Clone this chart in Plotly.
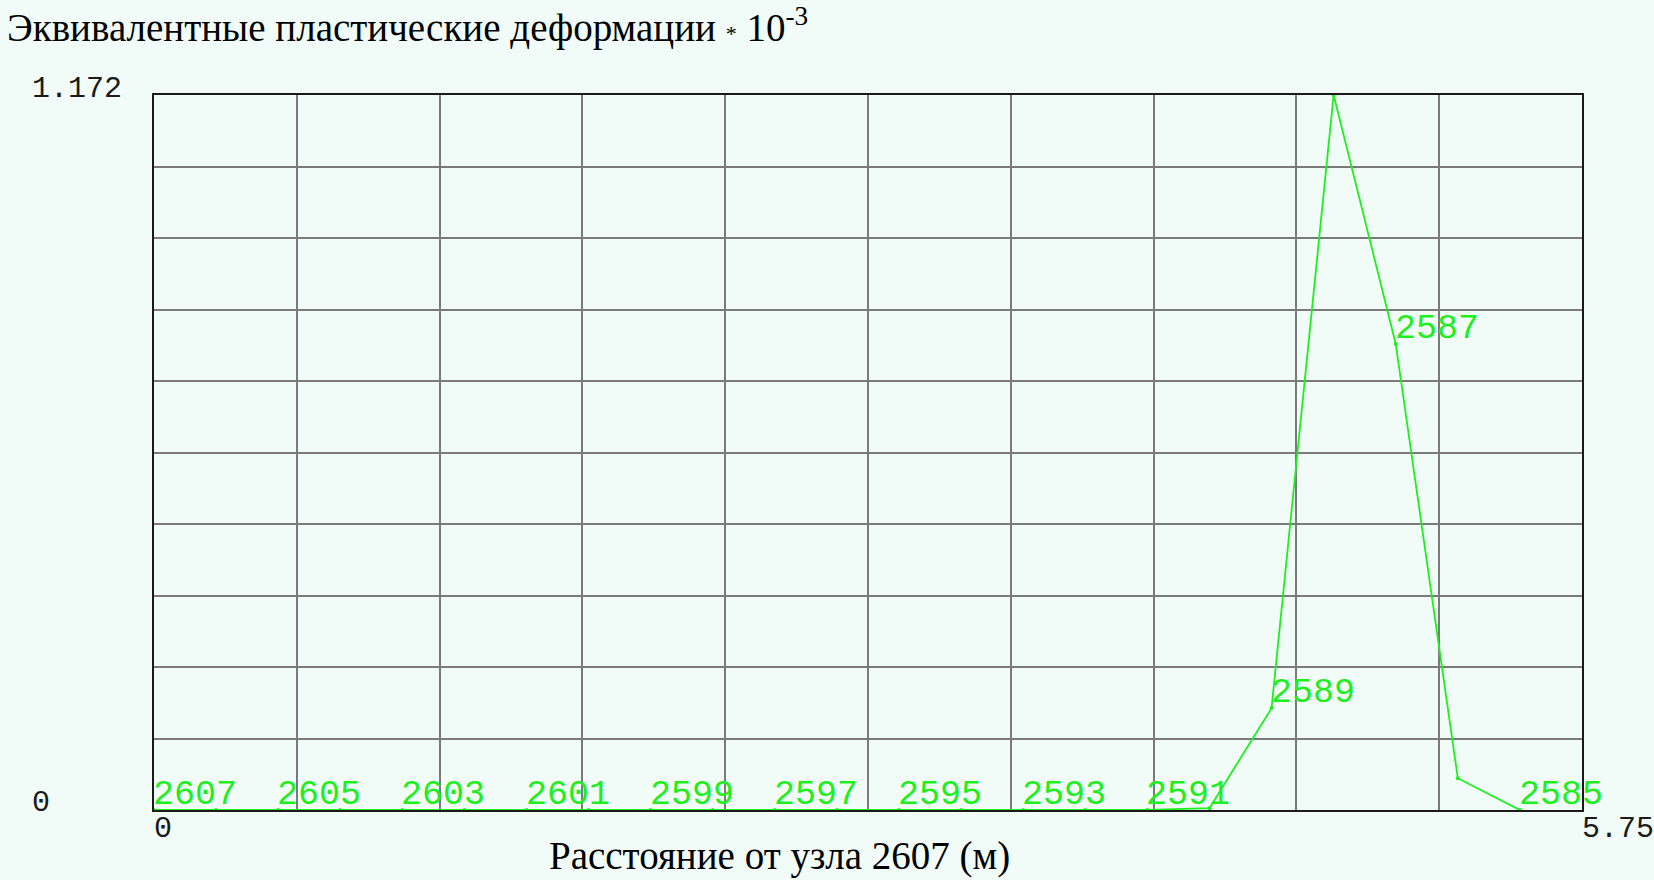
import plotly.graph_objects as go

# Node numbers along the path (from node 2607) and distances (m)
nodes = [2607, 2606, 2605, 2604, 2603, 2602, 2601, 2600, 2599, 2598, 2597, 2596,
         2595, 2594, 2593, 2592, 2591, 2590, 2589, 2588, 2587, 2586, 2585]
distance = [0.0, 0.25, 0.5, 0.75, 1.0, 1.25, 1.5, 1.75, 2.0, 2.25, 2.5, 2.75,
            3.0, 3.25, 3.5, 3.75, 4.0, 4.25, 4.5, 4.75, 5.0, 5.25, 5.5]
strain = [0, 0, 0, 0, 0, 0, 0, 0, 0, 0, 0, 0,
          0, 0, 0, 0, 0, 0.003, 0.167, 1.172, 0.764, 0.052, 0]

labeled_nodes = [2607, 2605, 2603, 2601, 2599, 2597, 2595, 2593, 2591, 2589, 2587, 2585]

x_max = 5.75
y_max = 1.172
title_text = "Эквивалентные пластические деформации <span style='font-size:22px'>*</span> 10<sup>-3</sup>"
x_title = "Расстояние от узла 2607 (м)"

GREEN = "#1fee1f"
BG = "#f1fcf9"

fig = go.Figure()
fig.add_trace(go.Scatter(
    x=distance, y=strain, mode="lines+markers",
    line=dict(color=GREEN, width=1.8),
    marker=dict(color=GREEN, size=4),
    hoverinfo="skip", showlegend=False, cliponaxis=False,
))

annotations = []
for n, d, v in zip(nodes, distance, strain):
    if n in labeled_nodes:
        annotations.append(dict(
            x=d, y=v, xref="x", yref="y", text=str(n), showarrow=False,
            xanchor="left", yanchor="bottom", xshift=-3, yshift=-7,
            font=dict(family="Liberation Mono", size=35, color=GREEN),
        ))

tick_font = dict(family="Liberation Mono", size=30, color="#1a1a1a")
annotations += [
    dict(x=0, y=y_max, xref="x", yref="y", text=f"{y_max:.3f}", showarrow=False,
         xanchor="right", yanchor="middle", xshift=-30, yshift=6, font=tick_font),
    dict(x=0, y=0, xref="x", yref="y", text="0", showarrow=False,
         xanchor="center", yanchor="middle", xshift=-113, yshift=7, font=tick_font),
    dict(x=0, y=0, xref="x", yref="y", text="0", showarrow=False,
         xanchor="left", yanchor="middle", xshift=-2, yshift=-19, font=tick_font),
    dict(x=x_max, y=0, xref="x", yref="y", text=f"{x_max:.2f}", showarrow=False,
         xanchor="left", yanchor="middle", xshift=-2, yshift=-19, font=tick_font),
    dict(x=-0.1043, y=1.0975, xref="paper", yref="paper", text=title_text, showarrow=False,
         xanchor="left", yanchor="middle",
         font=dict(family="Liberation Serif", size=39, color="#000000")),
    dict(x=0.4377, y=-0.0643, xref="paper", yref="paper", text=x_title, showarrow=False,
         xanchor="center", yanchor="middle",
         font=dict(family="Liberation Serif", size=39, color="#000000")),
]

fig.update_layout(
    width=1654, height=880,
    margin=dict(l=154, r=72, t=95, b=70),
    paper_bgcolor=BG, plot_bgcolor=BG,
    annotations=annotations,
    showlegend=False,
)
fig.update_xaxes(
    range=[0, x_max], tick0=0, dtick=x_max / 10, showticklabels=False, ticks="",
    showgrid=True, gridcolor="#7a7a7a", gridwidth=1.6, zeroline=False,
    showline=True, linecolor="#1a1a1a", linewidth=2, mirror=True, layer="above traces",
)
fig.update_yaxes(
    range=[0, y_max], tick0=0, dtick=y_max / 10, showticklabels=False, ticks="",
    showgrid=True, gridcolor="#7a7a7a", gridwidth=1.6, zeroline=False,
    showline=True, linecolor="#1a1a1a", linewidth=2, mirror=True, layer="above traces",
)

fig.write_html(
    "out.html",
    config={"displayModeBar": False},
    post_script="document.body.style.margin='0';document.body.style.overflow='hidden';"
                "document.body.style.background='" + BG + "';",
)
